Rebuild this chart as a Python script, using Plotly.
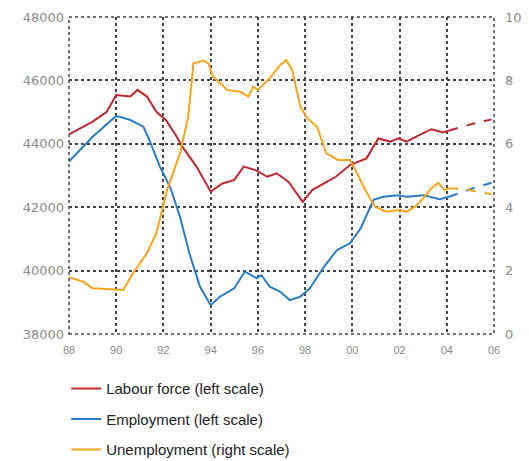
import plotly.graph_objects as go

# actuals (decimal years)
lab_x = [1988.0, 1989.0, 1989.6, 1990.0, 1990.6, 1990.9, 1991.3, 1991.7, 1992.1, 1992.5,
         1992.8, 1993.4, 1994.0, 1994.5, 1995.0, 1995.4, 1995.9, 1996.4, 1996.8, 1997.3,
         1997.9, 1998.3, 1998.8, 1999.3, 1999.9, 2000.6, 2001.1, 2001.6, 2001.95, 2002.3,
         2002.85, 2003.35, 2003.85, 2004.1]
lab_y = [44300, 44700, 45010, 45540, 45490, 45700, 45490, 45010, 44750, 44300,
         43910, 43280, 42490, 42750, 42860, 43280, 43170, 42960, 43070, 42800,
         42170, 42540, 42750, 42960, 43330, 43540, 44170, 44070, 44170, 44070,
         44280, 44460, 44360, 44420]
lab_fx = [2004.1, 2004.4, 2005.1, 2005.9]
lab_fy = [44420, 44490, 44630, 44770]

emp_x = [1988.0, 1989.0, 1990.0, 1990.6, 1991.15, 1991.4, 1991.85, 1992.3, 1992.7, 1993.1,
         1993.55, 1994.0, 1994.4, 1995.0, 1995.45, 1995.95, 1996.15, 1996.5, 1996.95, 1997.35,
         1997.8, 1998.2, 1998.8, 1999.35, 1999.9, 2000.35, 2000.9, 2001.3, 2001.95, 2002.3,
         2003.0, 2003.7, 2004.1]
emp_y = [43440, 44220, 44880, 44750, 44540, 44120, 43280, 42600, 41700, 40540,
         39490, 38910, 39180, 39440, 39970, 39760, 39860, 39490, 39330, 39070,
         39180, 39440, 40120, 40650, 40860, 41330, 42230, 42330, 42380, 42330,
         42380, 42250, 42330]
emp_fx = [2004.1, 2004.7, 2005.25, 2005.9]
emp_fy = [42330, 42490, 42630, 42770]

une_x = [1988.0, 1988.6, 1989.0, 1989.6, 1990.3, 1990.7, 1991.3, 1991.7, 1992.15, 1992.5,
         1992.7, 1993.05, 1993.27, 1993.7, 1993.9, 1994.1, 1994.7, 1995.25, 1995.6, 1995.8,
         1996.0, 1996.5, 1996.95, 1997.2, 1997.45, 1997.8, 1998.1, 1998.5, 1998.9, 1999.4,
         1999.9, 2000.2, 2000.55, 2000.95, 2001.45, 2001.95, 2002.3, 2002.7, 2003.0, 2003.35,
         2003.65, 2003.9, 2004.1]
une_y = [1.79, 1.65, 1.44, 1.41, 1.39, 1.91, 2.55, 3.18, 4.54, 5.28,
         5.70, 6.85, 8.54, 8.62, 8.54, 8.12, 7.70, 7.64, 7.49, 7.80,
         7.70, 8.07, 8.49, 8.64, 8.33, 7.17, 6.80, 6.54, 5.70, 5.49,
         5.49, 5.07, 4.54, 4.02, 3.86, 3.91, 3.86, 4.04, 4.28, 4.60,
         4.77, 4.54, 4.60]
une_fx = [2004.1, 2004.85, 2005.25, 2005.9]
une_fy = [4.60, 4.56, 4.49, 4.42]

x_ticks = [1988, 1990, 1992, 1994, 1996, 1998, 2000, 2002, 2004, 2006]
x_text = ["88", "90", "92", "94", "96", "98", "00", "02", "04", "06"]

RED = "#c0272d"
BLUE = "#2a7cc6"
ORANGE = "#f6a51c"

fig = go.Figure()
fig.add_trace(go.Scatter(x=lab_x, y=lab_y, mode="lines", name="Labour force (left scale)",
                         legendgroup="a", line=dict(color=RED, width=2)))
fig.add_trace(go.Scatter(x=lab_fx, y=lab_fy, mode="lines", showlegend=False,
                         legendgroup="a", line=dict(color=RED, width=2, dash="dash")))
fig.add_trace(go.Scatter(x=emp_x, y=emp_y, mode="lines", name="Employment (left scale)",
                         legendgroup="b", line=dict(color=BLUE, width=2)))
fig.add_trace(go.Scatter(x=emp_fx, y=emp_fy, mode="lines", showlegend=False,
                         legendgroup="b", line=dict(color=BLUE, width=2, dash="dash")))
fig.add_trace(go.Scatter(x=une_x, y=une_y, mode="lines", name="Unemployment (right scale)",
                         legendgroup="c", yaxis="y2", line=dict(color=ORANGE, width=2)))
fig.add_trace(go.Scatter(x=une_fx, y=une_fy, mode="lines", showlegend=False,
                         legendgroup="c", yaxis="y2", line=dict(color=ORANGE, width=2, dash="dash")))

grid = dict(showgrid=True, gridcolor="#444", gridwidth=1.5, griddash="dot",
            zeroline=False, ticks="", automargin=False)

# page body has an 8px margin, so the figure is shifted by 8px
fig.update_layout(
  width=529, height=461,
  margin=dict(l=61, r=43, t=9, b=135, autoexpand=False),
  paper_bgcolor="white", plot_bgcolor="white",
  xaxis=dict(range=[1988, 2006], tickvals=x_ticks, ticktext=x_text, ticklabelstandoff=8,
             tickfont=dict(family="Liberation Sans", size=11, color="#8a8a8a"), **grid),
  yaxis=dict(range=[38000, 48000], dtick=2000, tickformat="d", ticklabelstandoff=4,
             tickfont=dict(family="DejaVu Sans", size=13, color="#8a8a8a"), **grid),
  yaxis2=dict(range=[0, 10], dtick=2, overlaying="y", side="right", showgrid=False,
              zeroline=False, automargin=False, ticklabelstandoff=10,
              tickfont=dict(family="DejaVu Sans", size=13, color="#8a8a8a")),
  showlegend=True,
  legend=dict(x=0.11, y=0.21, xref="container", yref="container", xanchor="left", yanchor="top",
              traceorder="grouped", tracegroupgap=8, bgcolor="rgba(0,0,0,0)",
              font=dict(family="Liberation Sans", size=15, color="#222")),
  shapes=[dict(type="rect", xref="paper", yref="paper", x0=0, y0=0, x1=1, y1=1,
               line=dict(color="#444", width=1.5, dash="dot"))]
)

fig.write_html("out.html")
